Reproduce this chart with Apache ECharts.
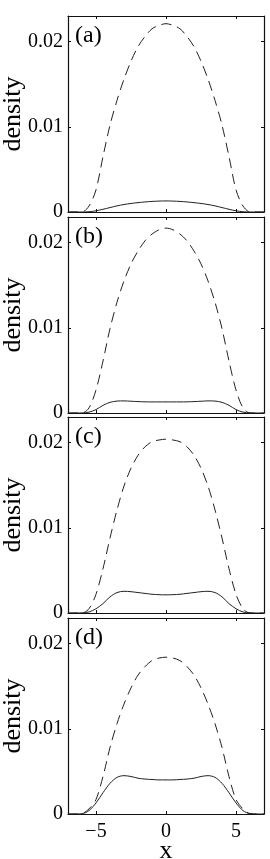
<!DOCTYPE html>
<html>
<head>
<meta charset="utf-8">
<script src="https://cdn.jsdelivr.net/npm/echarts@6/dist/echarts.min.js"></script>
<style>
html,body{margin:0;padding:0;background:#fff;}
#chart{width:270px;height:859px;}
</style>
</head>
<body>
<div id="chart"></div>
<script>
// x grid
const xs = [-7,-6.5,-6,-5.5,-5,-4.5,-4,-3.5,-3,-2.5,-2,-1.5,-1,-0.5,0,0.5,1,1.5,2,2.5,3,3.5,4,4.5,5,5.5,6,6.5,7];
const xTicks = [-5, 0, 5];
const yTicks = [0, 0.01, 0.02];
const panelLabels = ['(a)', '(b)', '(c)', '(d)'];

// panel (a)
const dashedA = [0,0,0,0.0007,0.0026,0.0065,0.0102,0.0131,0.0156,0.0177,0.0194,0.0206,0.0215,0.0219,0.0221,0.0219,0.0215,0.0206,0.0194,0.0177,0.0156,0.0131,0.0102,0.0065,0.0026,0.0007,0,0,0];
const solidA  = [0,0,0,0.00003,0.00014,0.00032,0.00052,0.00072,0.00088,0.001,0.0011,0.00118,0.00124,0.00128,0.0013,0.00128,0.00124,0.00118,0.0011,0.001,0.00088,0.00072,0.00052,0.00032,0.00014,0.00003,0,0,0];
// panel (b)
const dashedB = [0,0,0,0.0006,0.0027,0.0061,0.0099,0.013,0.0155,0.0175,0.019,0.0202,0.021,0.0215,0.0217,0.0215,0.021,0.0202,0.019,0.0175,0.0155,0.013,0.0099,0.0061,0.0027,0.0006,0,0,0];
const solidB  = [0,0,0.00001,0.0001,0.0004,0.0009,0.00125,0.0014,0.00142,0.00138,0.00134,0.00131,0.0013,0.0013,0.0013,0.0013,0.0013,0.00131,0.00134,0.00138,0.00142,0.0014,0.00125,0.0009,0.0004,0.0001,0.00001,0,0];
// panel (c)
const dashedC = [0,0,0,0.0005,0.0022,0.0052,0.0088,0.0121,0.0149,0.017,0.0185,0.0195,0.0201,0.0203,0.0204,0.0203,0.0201,0.0195,0.0185,0.017,0.0149,0.0121,0.0088,0.0052,0.0022,0.0005,0,0,0];
const solidC  = [0,0,0.00002,0.00012,0.0005,0.0011,0.0019,0.0024,0.00255,0.0025,0.0024,0.0023,0.0022,0.00215,0.00213,0.00215,0.0022,0.0023,0.0024,0.0025,0.00255,0.0024,0.0019,0.0011,0.0005,0.00012,0.00002,0,0];
// panel (d)
const dashedD = [0,0,0.00005,0.0006,0.0017,0.0044,0.0078,0.0106,0.0129,0.0148,0.0163,0.0173,0.018,0.0183,0.0184,0.0183,0.018,0.0173,0.0163,0.0148,0.0129,0.0106,0.0078,0.0044,0.0017,0.0006,0.00005,0,0];
const solidD  = [0,0,0.00003,0.0004,0.0013,0.0025,0.0036,0.0043,0.0045,0.0044,0.0042,0.0041,0.00405,0.004,0.004,0.004,0.00405,0.0041,0.0042,0.0044,0.0045,0.0043,0.0036,0.0025,0.0013,0.0004,0.00003,0,0];

const dashedAll = [dashedA, dashedB, dashedC, dashedD];
const solidAll = [solidA, solidB, solidC, solidD];

const FONT = '"Liberation Serif", "Times New Roman", serif';
const INK = '#111';
const tops = [16, 217, 417, 618];
const H = 196;

const grid = [], xAxis = [], yAxis = [], series = [], title = [];
const axisLineStyle = {show: true, onZero: false, lineStyle: {color: INK, width: 1.2}};
const tickStyle = {show: true, inside: true, length: 3, lineStyle: {color: INK, width: 1}};

tops.forEach((t, i) => {
  grid.push({left: 68, width: 196, top: t, height: H, containLabel: false, outerBoundsMode: 'none'});
  const last = i === tops.length - 1;
  // bottom x axis
  xAxis.push({
    type: 'value', gridIndex: i, min: -7, max: 7, position: 'bottom',
    axisLine: axisLineStyle,
    axisTick: Object.assign({customValues: xTicks}, tickStyle),
    axisLabel: {show: last, customValues: xTicks, color: '#000', fontFamily: FONT, fontSize: 20, margin: 8,
      formatter: v => String(v).replace('-', '\u2212')},
    splitLine: {show: false},
    name: last ? 'x' : '', nameLocation: 'middle', nameGap: 24, nameMoveOverlap: false,
    nameTextStyle: {color: '#000', fontFamily: FONT, fontSize: 26}
  });
  // top x axis (box + mirrored ticks)
  xAxis.push({
    type: 'value', gridIndex: i, min: -7, max: 7, position: 'top',
    axisLine: axisLineStyle,
    axisTick: Object.assign({customValues: xTicks}, tickStyle),
    axisLabel: {show: false}, splitLine: {show: false}
  });
  // left y axis
  yAxis.push({
    type: 'value', gridIndex: i, min: 0, max: 0.023, position: 'left',
    axisLine: axisLineStyle,
    axisTick: Object.assign({customValues: yTicks}, tickStyle),
    axisLabel: {customValues: yTicks, color: '#000', fontFamily: FONT, fontSize: 20, margin: 5,
      formatter: v => v === 0 ? '0' : String(+v.toFixed(3))},
    splitLine: {show: false},
    name: 'density', nameLocation: 'middle', nameRotate: 90, nameGap: 42, nameMoveOverlap: false,
    nameTextStyle: {color: '#000', fontFamily: FONT, fontSize: 26}
  });
  // right y axis
  yAxis.push({
    type: 'value', gridIndex: i, min: 0, max: 0.023, position: 'right',
    axisLine: axisLineStyle,
    axisTick: Object.assign({customValues: yTicks}, tickStyle),
    axisLabel: {show: false}, splitLine: {show: false}
  });
  series.push({
    type: 'line', xAxisIndex: 2 * i, yAxisIndex: 2 * i, showSymbol: false, smooth: 0.3,
    data: xs.map((x, k) => [x, dashedAll[i][k]]),
    lineStyle: {color: '#222', width: 1, type: [10, 6]}, silent: true, animation: false
  });
  series.push({
    type: 'line', xAxisIndex: 2 * i, yAxisIndex: 2 * i, showSymbol: false, smooth: 0.3,
    data: xs.map((x, k) => [x, solidAll[i][k]]),
    lineStyle: {color: '#222', width: 1}, silent: true, animation: false
  });
  title.push({text: panelLabels[i], left: 70, top: t + 3,
    textStyle: {color: '#000', fontFamily: FONT, fontSize: 24, fontWeight: 'normal'}});
});

const chart = echarts.init(document.getElementById('chart'), null, {renderer: 'canvas'});
chart.setOption({animation: false, backgroundColor: '#fff', title, grid, xAxis, yAxis, series});
</script>
</body>
</html>
